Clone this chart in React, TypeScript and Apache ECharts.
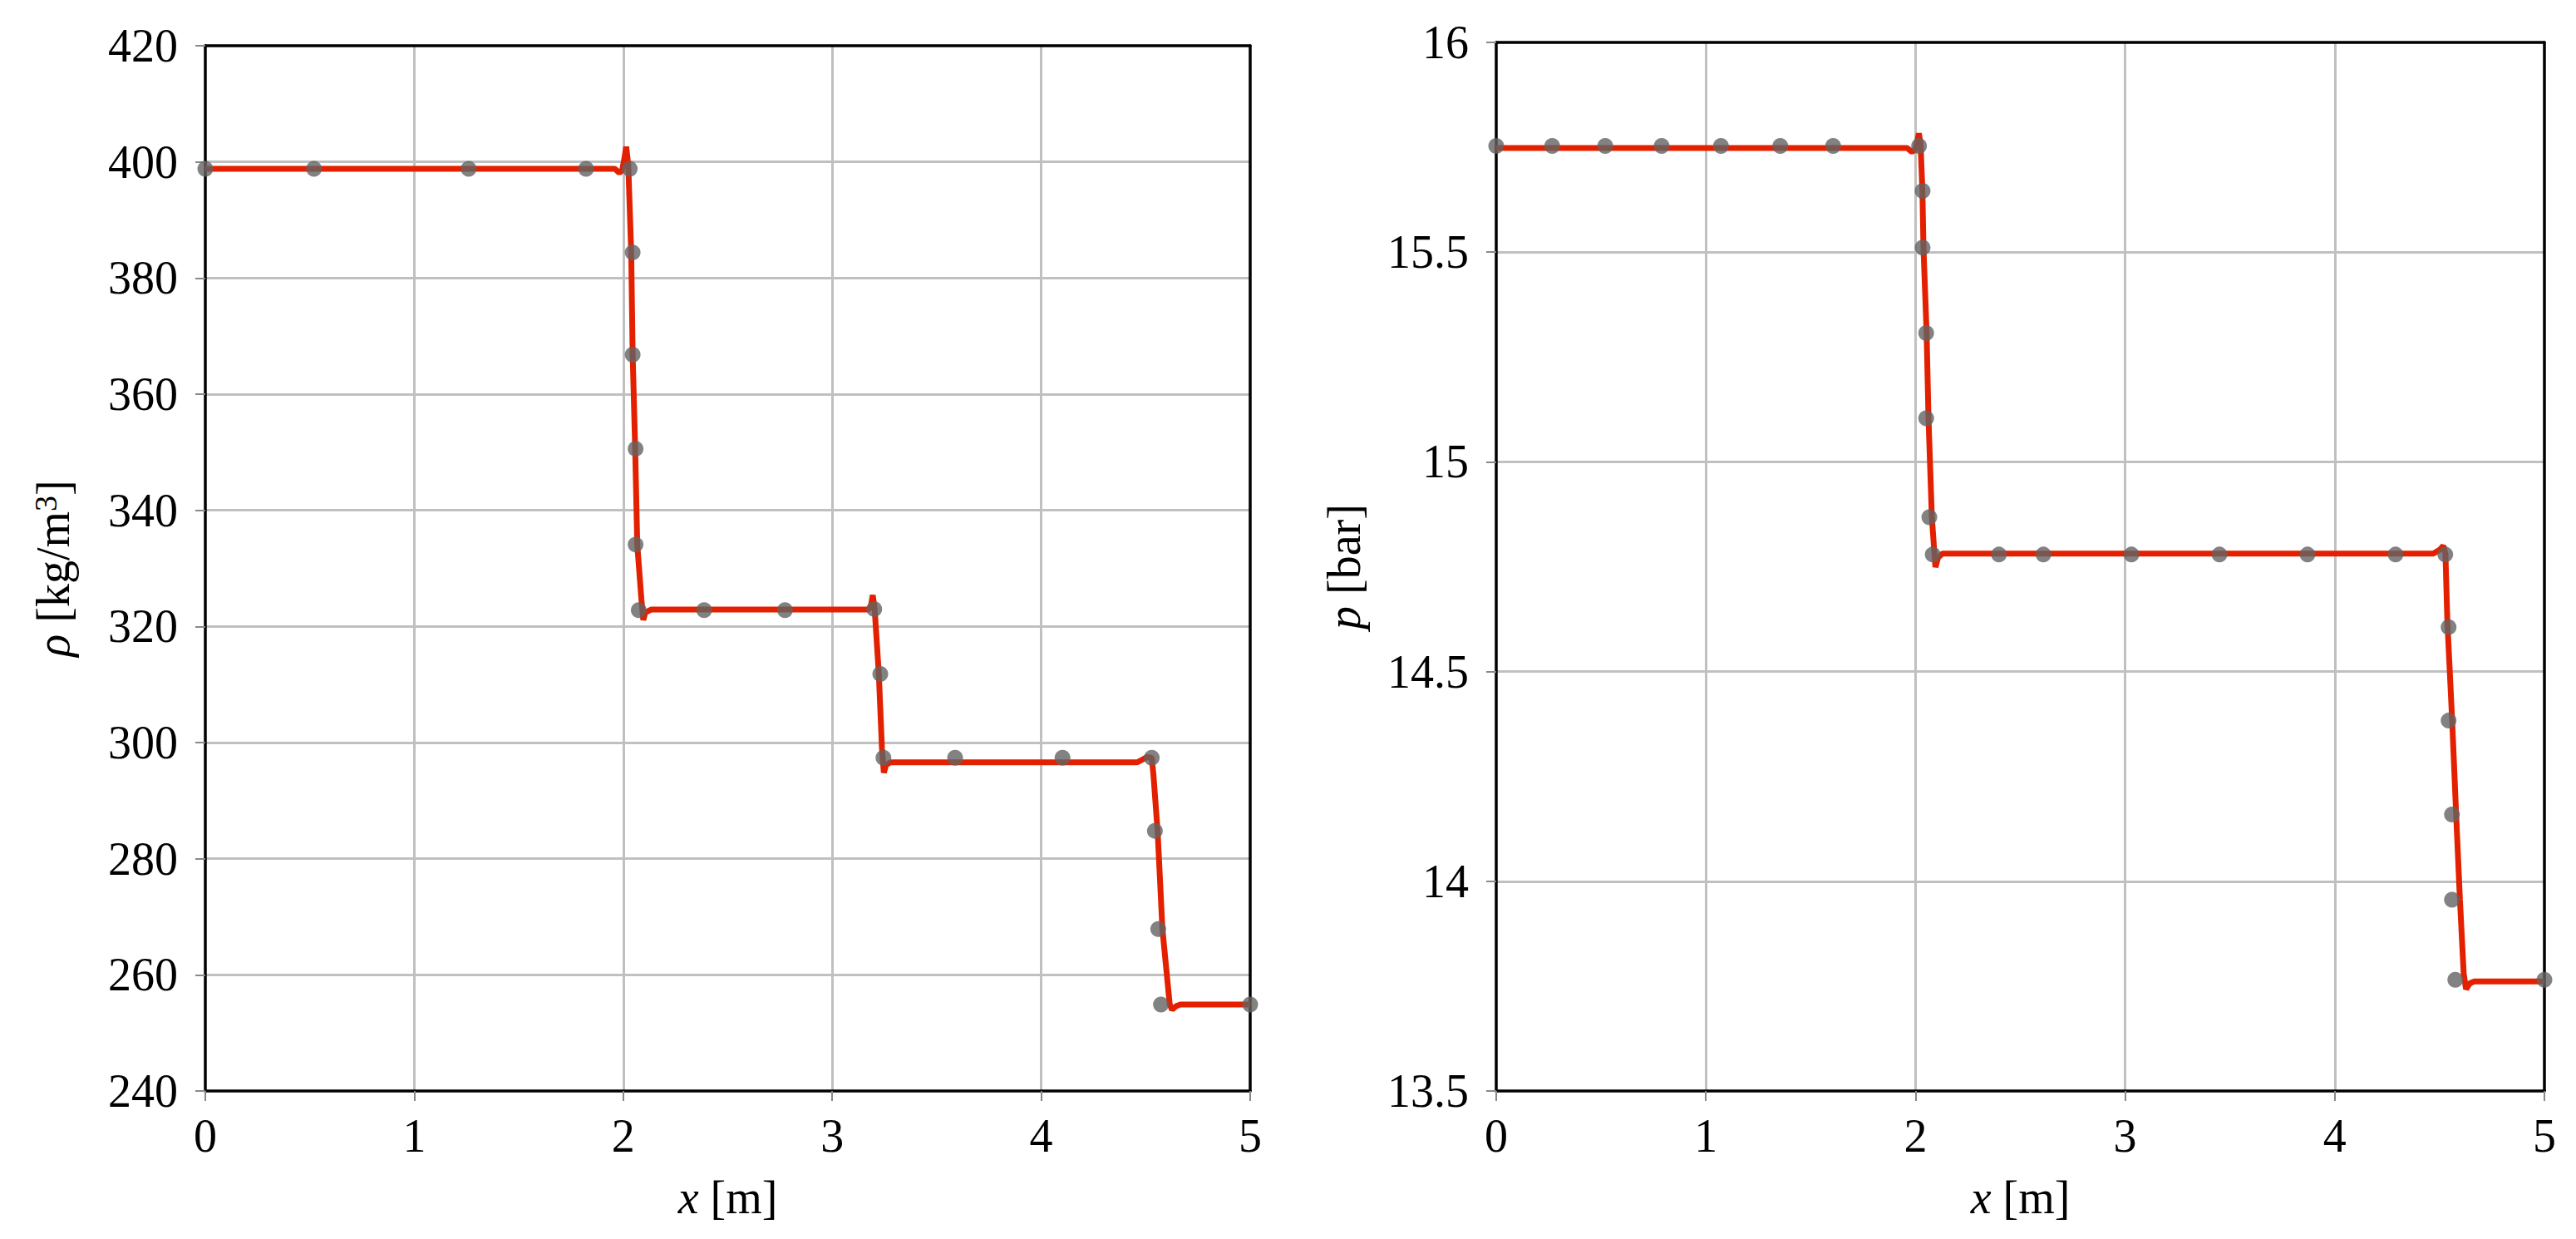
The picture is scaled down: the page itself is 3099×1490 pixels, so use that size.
import React, { useEffect, useRef } from "react";
import * as echarts from "echarts";

// Left panel: density rho [kg/m^3]
const rhoLineX = [0, 1.96, 1.981, 1.995, 2.005, 2.014, 2.024, 2.038, 2.045, 2.057, 2.067, 2.087, 2.096, 2.105, 2.133, 3.17, 3.184, 3.194, 3.203, 3.223, 3.238, 3.247, 3.258, 3.28, 4.46, 4.507, 4.529, 4.537, 4.557, 4.58, 4.615, 4.626, 4.645, 4.666, 5];
const rhoLineY = [398.8, 398.8, 398.1, 398.6, 400.5, 402.6, 399.5, 384.4, 366.8, 350.6, 334.1, 324.6, 321.1, 322.4, 322.9, 322.9, 323.3, 325.4, 323.0, 311.8, 299, 294.8, 296.2, 296.6, 296.6, 297.5, 297.4, 294.5, 284.8, 267.9, 254.9, 254.0, 254.6, 254.9, 254.9];
const rhoPtsX = [0, 0.52, 1.26, 1.822, 2.031, 2.045, 2.045, 2.059, 2.059, 2.074, 2.387, 2.774, 3.201, 3.23, 3.245, 3.588, 4.102, 4.529, 4.544, 4.56, 4.573, 5];
const rhoPtsY = [398.8, 398.8, 398.8, 398.8, 398.8, 384.4, 366.8, 350.6, 334.1, 322.8, 322.8, 322.8, 323.0, 311.8, 297.4, 297.4, 297.4, 297.4, 284.8, 267.9, 254.9, 254.9];

// Right panel: pressure p [bar]
const pLineX = [0, 1.96, 1.983, 2.0, 2.016, 2.024, 2.033, 2.038, 2.053, 2.062, 2.078, 2.095, 2.108, 2.128, 4.47, 4.5, 4.518, 4.528, 4.537, 4.56, 4.579, 4.597, 4.615, 4.626, 4.645, 4.666, 5];
const pLineY = [15.748, 15.748, 15.739, 15.745, 15.783, 15.76, 15.646, 15.511, 15.307, 15.104, 14.868, 14.749, 14.772, 14.781, 14.781, 14.79, 14.8, 14.78, 14.62, 14.383, 14.159, 13.956, 13.78, 13.743, 13.757, 13.761, 13.761];
const pPtsX = [0, 0.267, 0.52, 0.789, 1.072, 1.355, 1.607, 2.017, 2.034, 2.034, 2.051, 2.051, 2.066, 2.082, 2.398, 2.61, 3.03, 3.45, 3.87, 4.29, 4.527, 4.543, 4.543, 4.559, 4.559, 4.575, 5];
const pPtsY = [15.753, 15.753, 15.753, 15.753, 15.753, 15.753, 15.753, 15.753, 15.646, 15.511, 15.307, 15.104, 14.868, 14.779, 14.779, 14.779, 14.779, 14.779, 14.779, 14.779, 14.779, 14.606, 14.383, 14.159, 13.956, 13.765, 13.765];

const FONT = "Liberation Serif";
const FS = 56;

const zip = (xs: number[], ys: number[]) => xs.map((x, i) => [x, ys[i]]);

export default function App() {
  const ref = useRef<HTMLDivElement>(null);
  useEffect(() => {
    if (!ref.current) return;
    const chart = echarts.init(ref.current, null, { renderer: "svg" });
    const nameStyle = {
      fontSize: FS,
      fontFamily: FONT,
      color: "#000",
      rich: {
        i: { fontSize: FS, fontFamily: FONT, fontStyle: "italic", color: "#000" },
        sup: { fontSize: 38, fontFamily: FONT, color: "#000", verticalAlign: "top" },
      },
    };
    const xAxisBase = (gridIndex: number) => ({
      type: "value",
      gridIndex,
      min: 0,
      max: 5,
      interval: 1,
      name: "{i|x} [m]",
      nameLocation: "middle",
      nameGap: 100,
      nameTextStyle: nameStyle,
      axisLine: { show: true, lineStyle: { color: "#000", width: 3.5 } },
      axisTick: { show: true, length: 12, lineStyle: { color: "#888", width: 2 } },
      axisLabel: { fontSize: FS, fontFamily: FONT, color: "#000", margin: 26 },
      splitLine: { show: true, showMinLine: false, showMaxLine: false, lineStyle: { color: "#c0c0c0", width: 3 } },
      z: 1,
    });
    const xAxisTop = (gridIndex: number) => ({
      type: "value",
      gridIndex,
      position: "top",
      min: 0,
      max: 5,
      interval: 1,
      axisLine: { show: true, onZero: false, lineStyle: { color: "#000", width: 3.5 } },
      axisTick: { show: false },
      axisLabel: { show: false },
      splitLine: { show: false },
      z: 1,
    });
    const yAxisBase = (gridIndex: number, min: number, max: number, interval: number, name: string) => ({
      type: "value",
      gridIndex,
      min,
      max,
      interval,
      name,
      nameLocation: "middle",
      nameGap: 155,
      nameRotate: 90,
      nameTextStyle: nameStyle,
      axisLine: { show: true, lineStyle: { color: "#000", width: 3.5 } },
      axisTick: { show: true, length: 12, lineStyle: { color: "#888", width: 2 } },
      axisLabel: { fontSize: FS, fontFamily: FONT, color: "#000", margin: 33 },
      splitLine: { show: true, showMinLine: false, showMaxLine: false, lineStyle: { color: "#c0c0c0", width: 3 } },
      z: 1,
    });
    const yAxisRight = (gridIndex: number, min: number, max: number) => ({
      type: "value",
      gridIndex,
      position: "right",
      min,
      max,
      axisLine: { show: true, onZero: false, lineStyle: { color: "#000", width: 3.5 } },
      axisTick: { show: false },
      axisLabel: { show: false },
      splitLine: { show: false },
      z: 1,
    });
    const lineSeries = (idx: number, data: number[][]) => ({
      type: "line",
      xAxisIndex: idx,
      yAxisIndex: idx,
      data,
      showSymbol: false,
      symbol: "none",
      lineStyle: { color: "#e32000", width: 7 },
      z: 3,
    });
    const scatterSeries = (idx: number, data: number[][]) => ({
      type: "scatter",
      xAxisIndex: idx,
      yAxisIndex: idx,
      data,
      symbol: "circle",
      symbolSize: 19,
      itemStyle: { color: "#636363" },
      clip: false,
      z: 4,
    });
    chart.setOption({
      animation: false,
      backgroundColor: "#fff",
      grid: [
        { left: 247, top: 55, width: 1257, height: 1257 },
        { left: 1800, top: 51, width: 1261, height: 1261 },
      ],
      xAxis: [xAxisBase(0), xAxisBase(1), xAxisTop(0), xAxisTop(1)],
      yAxis: [
        yAxisBase(0, 240, 420, 20, "{i|ρ} [kg/m{sup|3}]"),
        yAxisBase(1, 13.5, 16, 0.5, "{i|p} [bar]"),
        yAxisRight(0, 240, 420),
        yAxisRight(1, 13.5, 16),
      ],
      series: [
        lineSeries(0, zip(rhoLineX, rhoLineY)),
        scatterSeries(0, zip(rhoPtsX, rhoPtsY)),
        lineSeries(1, zip(pLineX, pLineY)),
        scatterSeries(1, zip(pPtsX, pPtsY)),
      ],
    });
    return () => chart.dispose();
  }, []);
  return (
    <div
      ref={ref}
      style={{ position: "absolute", left: 0, top: 0, width: 3099, height: 1490, background: "#fff" }}
    />
  );
}
